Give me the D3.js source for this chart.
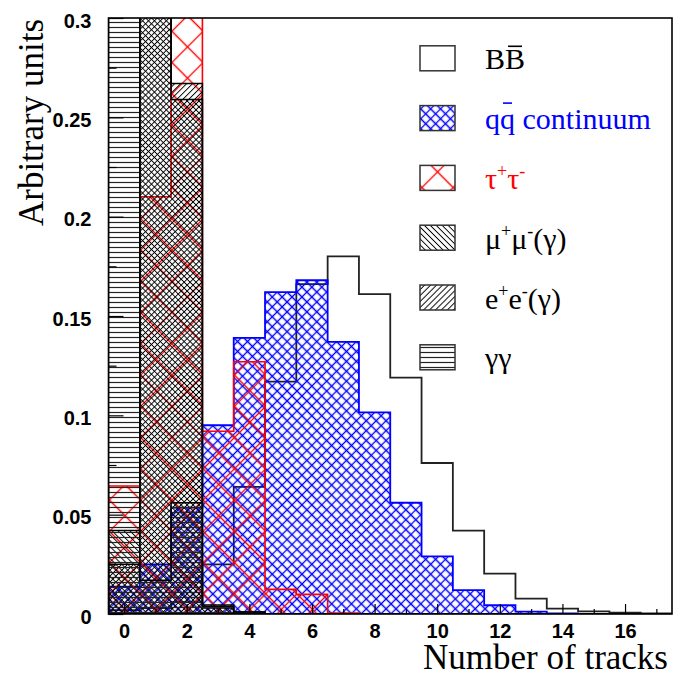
<!DOCTYPE html>
<html>
<head>
<meta charset="utf-8">
<script src="https://cdn.jsdelivr.net/npm/d3@7"></script>
<style>
  html, body { margin: 0; background: #fff; }
  svg { display: block; }
</style>
</head>
<body>
<div id="chart"></div>
<script>
// 径迹数分布：各过程各自归一，ROOT 风格阴影叠画（不堆叠）
// 每个数组 = 0..17 条径迹的各 bin 高度（任意单位），超过 0.3 的被画框裁掉
const nTracks = d3.range(0, 18);
const bbbar = [0.002, 0.003, 0.006, 0.025, 0.064, 0.117, 0.166, 0.180, 0.161, 0.119, 0.076, 0.042, 0.0203, 0.0077, 0.0027, 0.0013, 0.0007, 0.0003];
const qqbar = [0.0138, 0.025, 0.0535, 0.095, 0.139, 0.162, 0.168, 0.137, 0.1015, 0.056, 0.029, 0.012, 0.0044, 0.0012, 0.0003, 0.0001, 0, 0];
const tautau = [0.0644, 0.210, 0.360, 0.092, 0.127, 0.0124, 0.0099, 0.0005, 0.0001, 0, 0, 0, 0, 0, 0, 0, 0, 0];
const mumu = [0.042, 0.520, 0.259, 0.0038, 0.001, 0, 0, 0, 0, 0, 0, 0, 0, 0, 0, 0, 0, 0];
const ee = [0.025, 0.470, 0.267, 0.003, 0.0005, 0, 0, 0, 0, 0, 0, 0, 0, 0, 0, 0, 0, 0];
const gammagamma = [0.600, 0.017, 0.056, 0.0045, 0.001, 0, 0, 0, 0, 0, 0, 0, 0, 0, 0, 0, 0, 0];

const yTicks = [0, 0.05, 0.1, 0.15, 0.2, 0.25, 0.3];
const yTickLabels = ["0", "0.05", "0.1", "0.15", "0.2", "0.25", "0.3"];
const xTicks = [0, 2, 4, 6, 8, 10, 12, 14, 16];

// 图例文字：分段，sup = 上标，bar = 顶横线
const legendLabels = [
  [{ t: "B" }, { t: "B", bar: true }],
  [{ t: "q" }, { t: "q", bar: true }, { t: " continuum" }],
  [{ t: "τ" }, { t: "+", sup: true }, { t: "τ" }, { t: "-", sup: true }],
  [{ t: "μ" }, { t: "+", sup: true }, { t: "μ" }, { t: "-", sup: true }, { t: "(γ)" }],
  [{ t: "e" }, { t: "+", sup: true }, { t: "e" }, { t: "-", sup: true }, { t: "(γ)" }],
  [{ t: "γγ" }],
];

// 样式：阴影方向 / 间距 / 颜色
const STYLE = [
  { vals: bbbar, pat: null, line: "#222", lw: 1.8, text: "#000" },
  { vals: qqbar, pat: { id: "p-qq", size: 7, angle: 45, cross: true, color: "#0000ff", w: 1.3 }, line: "#0000ff", lw: 1.8, text: "#0000ff" },
  { vals: tautau, pat: { id: "p-tau", size: 22.1, angle: 45, cross: true, color: "#ff0000", w: 1.3 }, line: "#ff0000", lw: 1.6, text: "#ff0000" },
  { vals: mumu, pat: { id: "p-mu", size: 4.2, angle: 45, cross: false, color: "#000", w: 0.95 }, line: "#000", lw: 1.5, text: "#000" },
  { vals: ee, pat: { id: "p-ee", size: 4.2, angle: -45, cross: false, color: "#000", w: 0.95 }, line: "#000", lw: 1.5, text: "#000" },
  { vals: gammagamma, pat: { id: "p-gg", size: 5, angle: 0, cross: false, color: "#222", w: 1.2 }, line: "#000", lw: 1.5, text: "#000" },
];

const W = 673, H = 677;
const X0 = 108.5, X1 = 672, Y0 = 614, Y1 = 18;
const SANS = "'Liberation Sans', Arial, sans-serif";
const SERIF = "'Liberation Serif', 'Times New Roman', serif";

const x = d3.scaleLinear().domain([-0.5, 17.5]).range([X0, X1]);
const y = d3.scaleLinear().domain([0, 0.3]).range([Y0, Y1]);

const svg = d3.select("#chart").append("svg")
  .attr("width", W).attr("height", H).attr("viewBox", `0 0 ${W} ${H}`);
const defs = svg.append("defs");

STYLE.forEach(s => {
  if (!s.pat) return;
  const p = s.pat, h = p.size / 2;
  const pt = defs.append("pattern").attr("id", p.id)
    .attr("patternUnits", "userSpaceOnUse")
    .attr("width", p.size).attr("height", p.size)
    .attr("patternTransform", `rotate(${p.angle})`);
  pt.append("path")
    .attr("d", p.cross ? `M0,${h}H${p.size}M${h},0V${p.size}` : `M0,${h}H${p.size}`)
    .attr("stroke", p.color).attr("stroke-width", p.w).attr("fill", "none");
});

defs.append("clipPath").attr("id", "plot-clip")
  .append("rect").attr("x", X0).attr("y", Y1).attr("width", X1 - X0).attr("height", Y0 - Y1);

// 阶梯直方图轮廓
const stepPath = vals => {
  let d = `M${x(-0.5)},${y(0)}`;
  vals.forEach((v, i) => { d += `V${y(v)}H${x(nTracks[i] + 0.5)}`; });
  return d + `V${y(0)}Z`;
};

const plot = svg.append("g").attr("clip-path", "url(#plot-clip)");
STYLE.forEach(s => {
  plot.append("path")
    .attr("d", stepPath(s.vals))
    .attr("fill", s.pat ? `url(#${s.pat.id})` : "none")
    .attr("stroke", s.line).attr("stroke-width", s.lw)
    .attr("stroke-linejoin", "miter");
});

// 坐标轴（刻度朝内）
const yAx = svg.append("g").attr("transform", `translate(${X0},0)`)
  .call(d3.axisLeft(y).tickValues(yTicks).tickSize(-15).tickPadding(17)
    .tickFormat((d, i) => yTickLabels[i]));
svg.append("g").attr("transform", `translate(${X0},0)`)
  .call(d3.axisLeft(y).tickValues(d3.range(0.025, 0.3, 0.05)).tickSize(-8).tickFormat(""));
const xAx = svg.append("g").attr("transform", `translate(0,${Y0})`)
  .call(d3.axisBottom(x).tickValues(xTicks).tickSize(-10).tickPadding(10).tickFormat(d3.format("d")));
svg.append("g").attr("transform", `translate(0,${Y0})`)
  .call(d3.axisBottom(x).tickValues(d3.range(1, 18, 2)).tickSize(-5).tickFormat(""));

svg.selectAll(".domain").remove();
svg.selectAll(".tick line").attr("stroke", "#000").attr("stroke-width", 1.2);
yAx.selectAll("text").attr("dy", "0.45em")
  .attr("style", `font:bold 20px ${SANS};fill:#000`);
xAx.selectAll("text")
  .attr("style", `font:bold 20px ${SANS};fill:#000`);

// 画框
svg.append("rect").attr("x", X0).attr("y", Y1).attr("width", X1 - X0).attr("height", Y0 - Y1)
  .attr("fill", "none").attr("stroke", "#000").attr("stroke-width", 1.6);

// 轴标题
svg.append("text").attr("x", 668).attr("y", 669).attr("text-anchor", "end")
  .attr("style", `font:35px ${SERIF};fill:#000`).text("Number of tracks");
svg.append("text").attr("transform", `translate(43,19) rotate(-90)`).attr("text-anchor", "end")
  .attr("style", `font:35px ${SERIF};fill:#000`).text("Arbitrary units");

// 图例
const FS = 30, LX = 420, LY = 58.3, LDY = 59.8;
legendLabels.forEach((segs, i) => {
  const s = STYLE[i];
  const cy = LY + i * LDY;
  svg.append("rect").attr("x", LX).attr("y", cy - 12.5).attr("width", 35).attr("height", 25)
    .attr("fill", s.pat ? `url(#${s.pat.id})` : "#fff")
    .attr("stroke", "#333").attr("stroke-width", 1.5);
  const base = cy + 11;
  const t = svg.append("text").attr("x", 485).attr("y", base)
    .attr("style", `font:${FS}px ${SERIF};fill:${s.text}`);
  let raised = false, idx = 0;
  const bars = [];
  segs.forEach(g => {
    const ts = t.append("tspan").text(g.t);
    if (g.sup && !raised) { ts.attr("dy", -12).attr("font-size", 18); raised = true; }
    else if (g.sup) { ts.attr("font-size", 18); }
    else if (raised) { ts.attr("dy", 12); raised = false; }
    if (g.bar) bars.push(idx);
    idx += g.t.length;
  });
  bars.forEach(ci => {
    const e = t.node().getExtentOfChar(ci);
    const by = segs[0].t === "q" ? base - 26 : base - 23;
    svg.append("line").attr("x1", e.x + 3).attr("x2", e.x + e.width - 3)
      .attr("y1", by).attr("y2", by).attr("stroke", s.text).attr("stroke-width", 1.6);
  });
});
</script>
</body>
</html>
